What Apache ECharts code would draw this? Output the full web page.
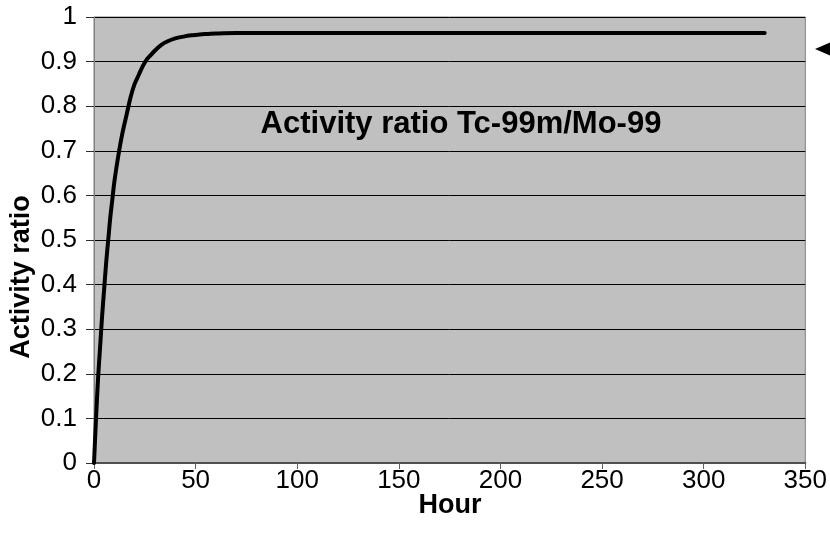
<!DOCTYPE html>
<html>
<head>
<meta charset="utf-8">
<script src="https://cdn.jsdelivr.net/npm/echarts@6/dist/echarts.min.js"></script>
<style>
  html, body { margin: 0; padding: 0; background: #ffffff; }
  #chart { width: 830px; height: 534px; }
</style>
</head>
<body>
<div id="chart"></div>
<script>
// Tc-99m / Mo-99 activity ratio over time (transient equilibrium)
const hours = [0, 1, 2, 3, 4, 5, 6, 7, 8, 9, 10, 12, 14, 16, 18, 20, 22, 24, 26, 28, 30,
  33, 36, 40, 44, 48, 52, 56, 60, 70, 80, 100, 150, 200, 250, 300, 330];
const ratio = [0, 0.10, 0.19, 0.26, 0.33, 0.39, 0.45, 0.50, 0.55, 0.59, 0.63, 0.69, 0.74,
  0.78, 0.82, 0.85, 0.87, 0.89, 0.905, 0.915, 0.925, 0.937, 0.945, 0.952, 0.956, 0.959,
  0.961, 0.962, 0.963, 0.964, 0.964, 0.964, 0.964, 0.964, 0.964, 0.964, 0.964];
const xTicks = { min: 0, max: 350, interval: 50 };
const yTicks = { min: 0, max: 1, interval: 0.1 };

const chart = echarts.init(document.getElementById('chart'), null, { renderer: 'canvas' });
const font = '"Liberation Sans", Arial, sans-serif';

chart.setOption({
  animation: false,
  backgroundColor: '#ffffff',
  grid: {
    left: 94, right: 23, top: 17, bottom: 71,
    show: true,
    backgroundColor: '#c0c0c0',
    borderColor: '#808080',
    borderWidth: 1
  },
  xAxis: {
    type: 'value',
    min: xTicks.min, max: xTicks.max, interval: xTicks.interval,
    axisLine: { show: true, lineStyle: { color: '#505050', width: 2 } },
    axisTick: { show: true, inside: false, length: 6, lineStyle: { color: '#606060', width: 1 } },
    axisLabel: { fontFamily: font, fontSize: 26, color: '#000', margin: 5 },
    splitLine: { show: false }
  },
  yAxis: {
    type: 'value',
    min: yTicks.min, max: yTicks.max, interval: yTicks.interval,
    axisLine: { show: true, lineStyle: { color: '#808080', width: 1 } },
    axisTick: { show: true, inside: false, length: 8, lineStyle: { color: '#303030', width: 1 } },
    axisLabel: { fontFamily: font, fontSize: 26, color: '#000', margin: 17 },
    splitLine: { show: true, lineStyle: { color: '#000000', width: 1 } }
  },
  graphic: [
    {
      type: 'text',
      x: 450, y: 506,
      style: {
        text: 'Hour',
        fontFamily: font, fontSize: 27, fontWeight: 'bold',
        fill: '#000', align: 'center', verticalAlign: 'middle'
      },
      z: 10
    },
    {
      type: 'text',
      x: 22, y: 277,
      rotation: Math.PI / 2,
      style: {
        text: 'Activity ratio',
        fontFamily: font, fontSize: 27, fontWeight: 'bold',
        fill: '#000', align: 'center', verticalAlign: 'middle'
      },
      z: 10
    },
    {
      type: 'text',
      x: 461, y: 124,
      style: {
        text: 'Activity ratio Tc-99m/Mo-99',
        fontFamily: font, fontSize: 31, fontWeight: 'bold',
        fill: '#000', align: 'center', verticalAlign: 'middle'
      },
      z: 10
    },
    {
      type: 'polygon',
      shape: { points: [[815, 49], [831, 42], [831, 56]] },
      style: { fill: '#000' },
      z: 10
    }
  ],
  series: [{
    type: 'line',
    data: hours.map((h, i) => [h, ratio[i]]),
    showSymbol: false,
    smooth: 0.35,
    lineStyle: { color: '#000', width: 4, join: 'round', cap: 'round' },
    z: 5
  }]
});
</script>
</body>
</html>
